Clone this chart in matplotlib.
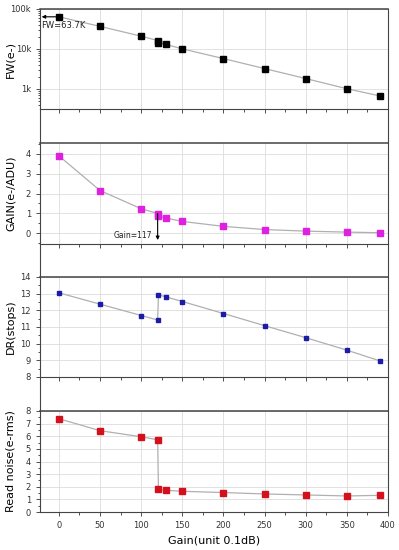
import matplotlib.pyplot as plt
from matplotlib.ticker import MultipleLocator, FixedLocator, FixedFormatter
import numpy as np

# gain setting (unit 0.1 dB)
gain = [0, 50, 100, 120, 121, 130, 150, 200, 250, 300, 350, 390]

full_well = [63700, 36600, 20800, 16200, 14400, 12900, 10000, 5700, 3200, 1800, 1000, 660]
conv_gain = [3.9, 2.15, 1.23, 0.99, 0.84, 0.76, 0.59, 0.34, 0.18, 0.10, 0.05, 0.02]
dyn_range = [13.05, 12.37, 11.69, 11.42, 12.93, 12.81, 12.53, 11.81, 11.08, 10.36, 9.61, 8.97]
read_noise = [7.39, 6.44, 5.96, 5.72, 1.80, 1.72, 1.64, 1.54, 1.43, 1.35, 1.27, 1.32]

W, H = 399, 550
fig = plt.figure(figsize=(W / 100, H / 100), dpi=100)

left = 40 / W
width = 348 / W
# (top px, bottom px) for each data panel
panels = [(9, 109), (143, 244), (277, 377), (411, 512)]

spine_col = '#444444'
grid_col = '#dcdcdc'
line_col = '#b0b0b0'


def fig_rect(top, bottom):
    return [left, 1 - bottom / H, width, (bottom - top) / H]


axes = []
for top, bottom in panels:
    ax = fig.add_axes(fig_rect(top, bottom))
    ax.set_xlim(-23, 400)
    ax.xaxis.set_major_locator(MultipleLocator(50))
    ax.xaxis.set_minor_locator(MultipleLocator(25))
    ax.tick_params(axis='both', which='both', direction='out', labelsize=6,
                   colors='#333333', length=3, width=0.6)
    ax.tick_params(axis='both', which='minor', length=1.8)
    ax.grid(True, which='major', color=grid_col, linewidth=0.6)
    ax.set_axisbelow(True)
    for s in ax.spines.values():
        s.set_color(spine_col)
        s.set_linewidth(0.8)
    ax.spines['top'].set_linewidth(1.1)
    axes.append(ax)

# connecting frames between panels
for (t0, b0), (t1, b1) in zip(panels[:-1], panels[1:]):
    gap = fig.add_axes(fig_rect(b0, t1))
    gap.set_xticks([])
    gap.set_yticks([])
    gap.patch.set_alpha(0)
    gap.spines['top'].set_visible(False)
    gap.spines['bottom'].set_visible(False)
    for side in ['left', 'right']:
        gap.spines[side].set_color(spine_col)
        gap.spines[side].set_linewidth(0.8)

for ax in axes[:-1]:
    ax.tick_params(axis='x', labelbottom=False)

# FW
ax = axes[0]
ax.plot(gain, full_well, color=line_col, linewidth=0.9, marker='s',
        markersize=4.5, markerfacecolor='black', markeredgecolor='black')
ax.set_yscale('log')
ax.set_ylim(310, 1e5)
ax.yaxis.set_major_locator(FixedLocator([1e3, 1e4, 1e5]))
ax.yaxis.set_major_formatter(FixedFormatter(['1k', '10k', '100k']))
ax.set_ylabel('FW(e-)', fontsize=8)
ax.annotate('', xy=(-21, full_well[0]), xytext=(gain[0], full_well[0]),
            arrowprops=dict(arrowstyle='-|>', color='black', lw=0.8,
                            mutation_scale=5, shrinkA=0, shrinkB=0))
ax.text(-22, 38000, 'FW=63.7K', fontsize=6, ha='left', va='center', color='#222222')

# GAIN
ax = axes[1]
ax.plot(gain, conv_gain, color=line_col, linewidth=0.9, marker='s',
        markersize=3.8, markerfacecolor='#e020e0', markeredgecolor='#e020e0')
ax.set_ylim(-0.55, 4.55)
ax.yaxis.set_major_locator(MultipleLocator(1))
ax.yaxis.set_minor_locator(MultipleLocator(0.5))
ax.set_ylabel('GAIN(e-/ADU)', fontsize=8)
ax.annotate('', xy=(gain[3], -0.35), xytext=(gain[3], conv_gain[3]),
            arrowprops=dict(arrowstyle='-|>', color='black', lw=0.8,
                            mutation_scale=5, shrinkA=0, shrinkB=0))
ax.text(113, -0.1, 'Gain=117', fontsize=5.5, ha='right', va='center', color='#222222')

# DR
ax = axes[2]
ax.plot(gain, dyn_range, color=line_col, linewidth=0.9, marker='s',
        markersize=3.5, markerfacecolor='#1c1ca8', markeredgecolor='#1c1ca8')
ax.set_ylim(8, 14)
ax.yaxis.set_major_locator(MultipleLocator(1))
ax.yaxis.set_minor_locator(MultipleLocator(0.5))
ax.set_ylabel('DR(stops)', fontsize=8)

# Read noise
ax = axes[3]
ax.plot(gain, read_noise, color=line_col, linewidth=0.9, marker='s',
        markersize=4, markerfacecolor='#d4101c', markeredgecolor='#d4101c')
ax.set_ylim(0, 8)
ax.yaxis.set_major_locator(MultipleLocator(1))
ax.yaxis.set_minor_locator(MultipleLocator(0.5))
ax.set_ylabel('Read noise(e-rms)', fontsize=8)
ax.set_xlabel('Gain(unit 0.1dB)', fontsize=8, labelpad=4)

for ax in axes:
    ax.yaxis.set_label_coords(-0.07, 0.5)

fig.savefig('out.png', dpi=100)
